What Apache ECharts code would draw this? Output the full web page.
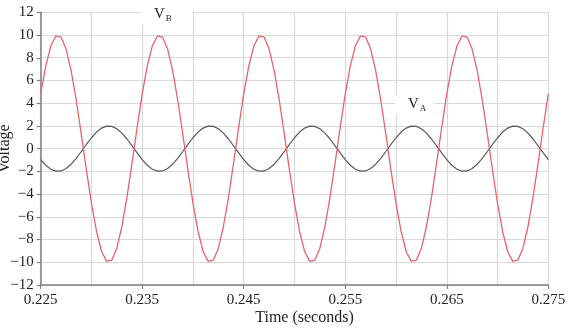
<!DOCTYPE html>
<html>
<head>
<meta charset="utf-8">
<script src="https://cdn.jsdelivr.net/npm/echarts@6/dist/echarts.min.js"></script>
<style>html,body{margin:0;padding:0;background:#fff}#c{width:575px;height:330px}</style>
</head>
<body>
<div id="c"></div>
<script>
// Time samples (seconds), 0.0005 s step from 0.225 to 0.275
var times = [];
for (var i = 0; i <= 100; i++) times.push(+(0.225 + i * 0.0005).toFixed(4));

// V_B (red) values
var vB = [
  4.82, 7.29, 9.05, 9.92, 9.82, 8.76, 6.85, 4.26, 1.25, -1.87,
  -4.82, -7.29, -9.05, -9.92, -9.82, -8.76, -6.85, -4.26, -1.25, 1.87,
  4.82, 7.29, 9.05, 9.92, 9.82, 8.76, 6.85, 4.26, 1.25, -1.87,
  -4.82, -7.29, -9.05, -9.92, -9.82, -8.76, -6.85, -4.26, -1.25, 1.87,
  4.82, 7.29, 9.05, 9.92, 9.82, 8.76, 6.85, 4.26, 1.25, -1.87,
  -4.82, -7.29, -9.05, -9.92, -9.82, -8.76, -6.85, -4.26, -1.25, 1.87,
  4.82, 7.29, 9.05, 9.92, 9.82, 8.76, 6.85, 4.26, 1.25, -1.87,
  -4.82, -7.29, -9.05, -9.92, -9.82, -8.76, -6.85, -4.26, -1.25, 1.87,
  4.82, 7.29, 9.05, 9.92, 9.82, 8.76, 6.85, 4.26, 1.25, -1.87,
  -4.82, -7.29, -9.05, -9.92, -9.82, -8.76, -6.85, -4.26, -1.25, 1.87,
  4.82
];
// V_A (dark grey) values
var vA = [
  -0.96, -1.46, -1.81, -1.98, -1.96, -1.75, -1.37, -0.85, -0.25, 0.37,
  0.96, 1.46, 1.81, 1.98, 1.96, 1.75, 1.37, 0.85, 0.25, -0.37,
  -0.96, -1.46, -1.81, -1.98, -1.96, -1.75, -1.37, -0.85, -0.25, 0.37,
  0.96, 1.46, 1.81, 1.98, 1.96, 1.75, 1.37, 0.85, 0.25, -0.37,
  -0.96, -1.46, -1.81, -1.98, -1.96, -1.75, -1.37, -0.85, -0.25, 0.37,
  0.96, 1.46, 1.81, 1.98, 1.96, 1.75, 1.37, 0.85, 0.25, -0.37,
  -0.96, -1.46, -1.81, -1.98, -1.96, -1.75, -1.37, -0.85, -0.25, 0.37,
  0.96, 1.46, 1.81, 1.98, 1.96, 1.75, 1.37, 0.85, 0.25, -0.37,
  -0.96, -1.46, -1.81, -1.98, -1.96, -1.75, -1.37, -0.85, -0.25, 0.37,
  0.96, 1.46, 1.81, 1.98, 1.96, 1.75, 1.37, 0.85, 0.25, -0.37,
  -0.96
];
var xTicks = [0.225, 0.235, 0.245, 0.255, 0.265, 0.275];
var yTicks = [-12, -10, -8, -6, -4, -2, 0, 2, 4, 6, 8, 10, 12];

function pairs(xs, ys) { return xs.map(function (x, i) { return [x, ys[i]]; }); }

var font = 'Liberation Serif';
var chart = echarts.init(document.getElementById('c'), null, {renderer: 'canvas'});
chart.setOption({
  animation: false,
  backgroundColor: '#fff',
  grid: {left: 40.7, right: 26.7, top: 12.3, bottom: 45, containLabel: false, outerBoundsMode: 'none'},
  xAxis: {
    type: 'value',
    min: xTicks[0], max: xTicks[xTicks.length - 1], interval: 0.01,
    name: 'Time (seconds)', nameLocation: 'middle', nameGap: 25, nameMoveOverlap: false,
    nameTextStyle: {fontFamily: font, fontSize: 16, color: '#222', padding: [0, 0, 0, 20]},
    axisLine: {onZero: false, lineStyle: {color: '#808080', width: 1.5}},
    axisTick: {show: true, length: 4, lineStyle: {color: '#808080', width: 1.2}},
    axisLabel: {fontFamily: font, fontSize: 15, color: '#222', margin: 8,
      formatter: function (v) { return v.toFixed(3); }},
    splitLine: {show: true, lineStyle: {color: '#d9d9d9', width: 1.2}},
    minorTick: {show: false, splitNumber: 2},
    minorSplitLine: {show: true, lineStyle: {color: '#d9d9d9', width: 1.2}}
  },
  yAxis: {
    type: 'value',
    min: yTicks[0], max: yTicks[yTicks.length - 1], interval: 2,
    name: 'Voltage', nameLocation: 'middle', nameGap: 28, nameMoveOverlap: false,
    nameTextStyle: {fontFamily: font, fontSize: 16, color: '#222'},
    axisLine: {show: true, onZero: false, lineStyle: {color: '#808080', width: 1.5}},
    axisTick: {show: true, length: 4, lineStyle: {color: '#808080', width: 1.2}},
    axisLabel: {fontFamily: font, fontSize: 15, color: '#222', margin: 7,
      formatter: function (v) { return String(v).replace('-', '\u2212'); }},
    splitLine: {show: true, lineStyle: {color: '#d9d9d9', width: 1.2}}
  },
  graphic: [
    {type: 'text', left: 140, top: 5, z: 10,
      style: {rich: {v: {fontFamily: font, fontSize: 15, fill: '#222'}, s: {fontFamily: font, fontSize: 9, fill: '#222', padding: [8, 0, 0, 1]}},
        text: '{v|V}{s|B}', backgroundColor: '#fff', padding: [1, 20, 1, 14]}},
    {type: 'text', left: 395, top: 95, z: 10,
      style: {rich: {v: {fontFamily: font, fontSize: 15, fill: '#222'}, s: {fontFamily: font, fontSize: 9, fill: '#222', padding: [8, 0, 0, 1]}},
        text: '{v|V}{s|A}', backgroundColor: '#fff', padding: [1, 8, 1, 13]}}
  ],
  series: [
    {type: 'line', name: 'VA', data: pairs(times, vA), showSymbol: false, symbol: 'none',
      lineStyle: {color: '#5a5a5a', width: 1.2}, z: 3},
    {type: 'line', name: 'VB', data: pairs(times, vB), showSymbol: false, symbol: 'none',
      lineStyle: {color: '#e8646c', width: 1.3}, z: 4}
  ]
});
</script>
</body>
</html>
